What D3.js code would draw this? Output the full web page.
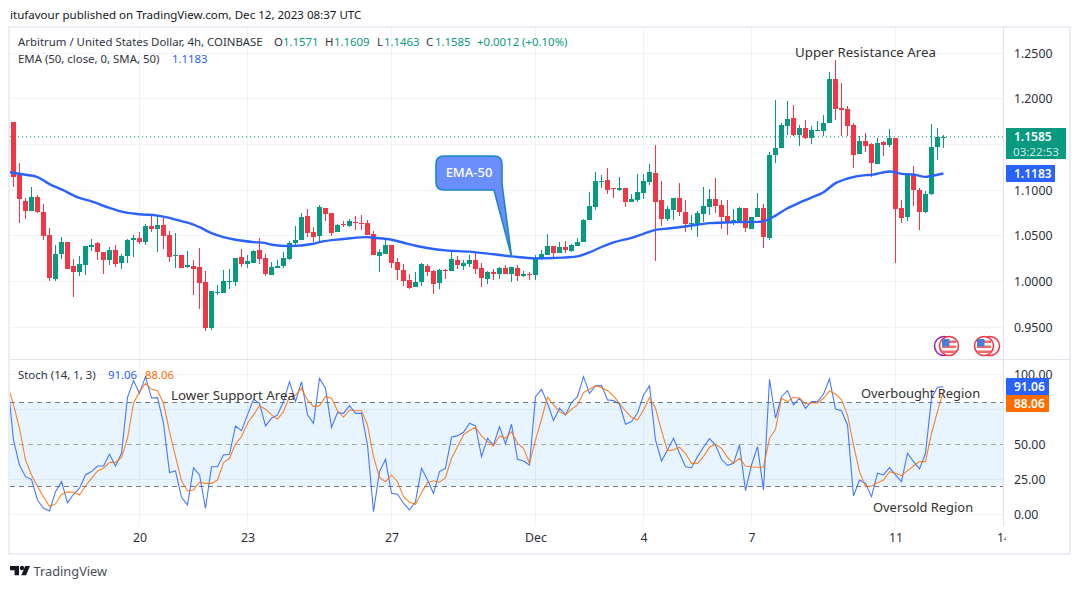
<!DOCTYPE html>
<meta charset="utf-8">
<style>
html, body { margin: 0; padding: 0; background: #fff; }
svg { display: block; }
text { font-family: "Noto Sans", sans-serif; font-size: 11.4px; fill: #131722; }
.axis text { font-size: 12.3px; fill: #2a2e39; }
.axis path, .axis line { display: none; }
.grid line { stroke: #f0f3fa; stroke-width: 1; shape-rendering: crispEdges; }
.note { font-size: 13.3px; fill: #333; }
</style>
<svg width="1080" height="589"></svg>
<script src="https://d3js.org/d3.v7.min.js"></script>
<script>

var opens = [1.1747,1.1177,1.0886,1.0770,1.0930,1.0766,1.0505,1.0029,1.0298,1.0428,
  1.0167,1.0105,1.0182,1.0378,1.0417,1.0319,1.0236,1.0341,1.0203,1.0280,
  1.0454,1.0472,1.0432,1.0613,1.0570,1.0624,1.0505,1.0280,1.0287,1.0160,
  1.0167,1.0156,0.9993,0.9495,0.9877,0.9877,0.9996,0.9996,1.0265,1.0192,
  1.0203,1.0341,1.0254,1.0069,1.0145,1.0167,1.0243,1.0417,1.0450,1.0722,
  1.0537,1.0494,1.0809,1.0755,1.0537,1.0635,1.0613,1.0657,1.0646,1.0646,
  1.0515,1.0276,1.0298,1.0396,1.0211,1.0123,1.0015,0.9938,0.9993,1.0167,
  1.0113,0.9982,1.0123,1.0113,1.0232,1.0167,1.0189,1.0232,1.0145,1.0025,
  1.0102,1.0080,1.0145,1.0080,1.0145,1.0058,1.0080,1.0069,1.0243,1.0287,
  1.0385,1.0309,1.0374,1.0330,1.0385,1.0428,1.0679,1.0820,1.1096,1.1114,
  1.1020,1.1006,1.1027,1.0875,1.0897,1.0973,1.1093,1.1191,1.0897,1.0690,
  1.0788,1.0918,1.0766,1.0635,1.0624,1.0744,1.0820,1.0908,1.0842,1.0722,
  1.0646,1.0668,1.0809,1.0570,1.0711,1.0802,1.0472,1.1385,1.1461,1.1706,
  1.1794,1.1608,1.1684,1.1575,1.1651,1.1651,1.1739,1.2222,1.1904,1.1893,
  1.1717,1.1399,1.1542,1.1509,1.1289,1.1531,1.1498,1.1575,1.0806,1.0707,
  1.1168,1.1004,1.0762,1.0960,1.1476,1.1571];

var highs = [1.1747,1.1300,1.0915,1.1039,1.0947,1.0853,1.0581,1.0396,1.0483,1.0428,
  1.0243,1.0276,1.0385,1.0461,1.0428,1.0319,1.0374,1.0396,1.0298,1.0461,
  1.0505,1.0537,1.0635,1.0744,1.0715,1.0701,1.0548,1.0526,1.0287,1.0330,
  1.0232,1.0363,1.0113,0.9895,0.9960,1.0123,1.0134,1.0254,1.0352,1.0287,
  1.0341,1.0472,1.0298,1.0211,1.0232,1.0319,1.0439,1.0603,1.0751,1.0799,
  1.0592,1.0842,1.0809,1.0755,1.0635,1.0668,1.0690,1.0722,1.0733,1.0679,
  1.0548,1.0352,1.0450,1.0396,1.0254,1.0189,1.0080,1.0102,1.0200,1.0189,
  1.0123,1.0134,1.0134,1.0319,1.0276,1.0232,1.0287,1.0309,1.0200,1.0113,
  1.0134,1.0156,1.0178,1.0156,1.0178,1.0113,1.0102,1.0287,1.0341,1.0515,
  1.0385,1.0428,1.0439,1.0407,1.0472,1.0686,1.0984,1.1202,1.1169,1.1245,
  1.1024,1.1147,1.1027,1.0962,1.1180,1.1180,1.1289,1.1496,1.1104,1.0831,
  1.0918,1.1082,1.0897,1.0733,1.0777,1.1038,1.1016,1.1136,1.0897,1.0897,
  1.0799,1.0820,1.0809,1.0711,1.0967,1.0846,1.1419,1.1985,1.1736,1.1981,
  1.1937,1.1717,1.1772,1.1706,1.1761,1.1827,1.2299,1.2431,1.2175,1.1926,
  1.1739,1.1597,1.1630,1.1516,1.1575,1.1542,1.1673,1.1575,1.0894,1.1168,
  1.1267,1.1026,1.0993,1.1728,1.1684,1.1609];

var lows = [1.1039,1.0639,1.0682,1.0770,1.0748,1.0454,1.0007,1.0007,1.0247,1.0138,
  0.9833,1.0062,1.0073,1.0334,1.0236,1.0083,1.0182,1.0160,1.0138,1.0203,
  1.0269,1.0410,1.0399,1.0541,1.0323,1.0356,1.0211,1.0149,1.0149,1.0149,
  0.9855,0.9699,0.9463,0.9474,0.9855,0.9877,0.9920,0.9953,1.0160,1.0149,
  1.0203,1.0192,1.0062,1.0069,1.0145,1.0145,1.0232,1.0378,1.0450,1.0483,
  1.0428,1.0439,1.0668,1.0494,1.0537,1.0592,1.0592,1.0559,1.0559,1.0505,
  1.0287,1.0102,1.0298,1.0145,1.0015,0.9949,0.9917,0.9938,0.9949,1.0058,
  0.9866,0.9917,1.0025,1.0113,1.0134,1.0123,1.0156,1.0080,0.9938,0.9971,
  1.0015,1.0025,1.0080,0.9993,1.0004,1.0047,1.0015,1.0015,1.0232,1.0287,
  1.0243,1.0309,1.0309,1.0319,1.0385,1.0428,1.0679,1.0788,1.1027,1.0962,
  1.0918,1.0995,1.0820,1.0875,1.0875,1.0908,1.1060,1.0221,1.0613,1.0668,
  1.0679,1.0722,1.0537,1.0559,1.0483,1.0657,1.0733,1.0755,1.0570,1.0505,
  1.0624,1.0668,1.0537,1.0570,1.0711,1.0370,1.0450,1.1296,1.1458,1.1608,
  1.1597,1.1487,1.1560,1.1509,1.1651,1.1589,1.1739,1.1772,1.1589,1.1597,
  1.1245,1.1399,1.1421,1.1146,1.1289,1.1377,1.1476,1.0206,1.0641,1.0663,
  1.0828,1.0564,1.0755,1.0952,1.1333,1.1463];

var closes = [1.1148,1.0901,1.0770,1.0930,1.0759,1.0497,1.0040,1.0298,1.0428,1.0138,
  1.0105,1.0189,1.0385,1.0396,1.0323,1.0236,1.0341,1.0192,1.0276,1.0450,
  1.0472,1.0428,1.0613,1.0570,1.0624,1.0497,1.0269,1.0287,1.0149,1.0178,
  1.0138,0.9985,0.9495,0.9895,0.9887,1.0004,1.0004,1.0254,1.0192,1.0221,
  1.0330,1.0247,1.0083,1.0160,1.0167,1.0254,1.0417,1.0450,1.0711,1.0526,
  1.0483,1.0820,1.0744,1.0526,1.0624,1.0624,1.0668,1.0639,1.0635,1.0505,
  1.0287,1.0319,1.0396,1.0200,1.0123,1.0004,0.9927,0.9993,1.0189,1.0102,
  0.9971,1.0123,1.0113,1.0243,1.0178,1.0200,1.0232,1.0134,1.0036,1.0102,
  1.0080,1.0145,1.0080,1.0156,1.0058,1.0080,1.0069,1.0254,1.0298,1.0385,
  1.0309,1.0374,1.0341,1.0396,1.0428,1.0679,1.0831,1.1104,1.1104,1.1006,
  1.1009,1.1027,1.0875,1.0908,1.0984,1.1104,1.1202,1.0875,1.0690,1.0799,
  1.0918,1.0766,1.0635,1.0646,1.0755,1.0831,1.0908,1.0831,1.0711,1.0646,
  1.0679,1.0809,1.0581,1.0711,1.0802,1.0491,1.1385,1.1461,1.1717,1.1783,
  1.1608,1.1684,1.1567,1.1662,1.1662,1.1739,1.2222,1.1893,1.1882,1.1706,
  1.1388,1.1542,1.1487,1.1300,1.1520,1.1498,1.1575,1.0795,1.0696,1.1168,
  1.1004,1.0762,1.0960,1.1476,1.1586,1.1585];

var emaIndex = [-1,0,2,4,6,8,11,13,16,18,21,24,26,28,30,31,33,35,37,40,42,43,46,50,51,55,59,60,63,65,67,70,72,76,80,83,87,90,94,96,98,100,103,105,107,109,112,116,120,124,126,127,129,131,133,135,137,139,142,143,146,148,150,152,153,155];
var emaValues = [1.1200,1.1191,1.1169,1.1143,1.1067,1.1009,1.0915,1.0878,1.0806,1.0766,1.0737,1.0722,1.0697,1.0661,1.0624,1.0595,1.0530,1.0486,1.0457,1.0432,1.0421,1.0403,1.0388,1.0414,1.0432,1.0465,1.0486,1.0479,1.0457,1.0425,1.0392,1.0356,1.0341,1.0327,1.0298,1.0276,1.0254,1.0258,1.0276,1.0319,1.0378,1.0428,1.0479,1.0523,1.0566,1.0581,1.0603,1.0639,1.0650,1.0653,1.0685,1.0722,1.0802,1.0865,1.0919,1.0978,1.1077,1.1128,1.1165,1.1168,1.1205,1.1179,1.1172,1.1146,1.1157,1.1183];

// first entry of both sits one candle left of the visible range
var stochK = [96,53.1,35.2,26.9,25.0,10.2,4.3,2.4,16.2,23.3,8.3,14.3,18.6,28.1,30.5,34.5,34.5,42.9,34.5,43.6,83.6,95.5,86.4,98.3,83.1,83.3,65.0,29.8,31.0,12.1,6.7,33.3,28.1,4.3,34.0,34.0,42.4,42.9,63.1,59.8,71.0,82.1,79.3,63.1,68.6,
  71.0,80.5,94.8,80.5,94.8,71.0,65.0,97.1,90.0,62.1,72.6,72.1,77.6,72.1,72.1,49.5,1.9,30.5,39.3,15.0,14.3,7.9,3.1,9.0,32.9,24.5,15.0,30.5,32.9,55.0,56.2,58.6,65.0,63.1,41.2,54.3,49.5,62.6,50.2,64.3,39.3,38.1,35.2,84.0,
  89.3,79.3,66.9,75.7,71.0,79.8,84.0,98.3,86.4,91.7,92.1,81.7,81.2,78.8,64.3,66.2,72.1,85.2,91.7,53.1,38.1,46.0,54.3,43.6,34.0,33.3,41.2,47.9,54.0,49.5,39.3,35.0,36.4,49.5,16.9,35.2,48.3,17.4,96.4,68.6,84.0,88.3,78.1,
  82.9,75.7,80.5,80.5,85.7,96.7,75.2,74.0,63.8,13.1,24.5,22.1,12.6,29.3,28.1,33.3,28.1,23.3,43.6,37.6,32.4,43.6,82.9,90.7,91.06];

var stochD = [93,78.1,61.4,38.8,28.1,19.8,12.6,5.5,7.4,14.3,16.0,15.7,13.8,20.2,25.7,31.0,32.9,37.1,37.1,40.7,54.3,79.3,87.6,93.6,89.3,88.3,79.3,59.0,41.2,24.0,16.7,17.4,22.9,22.1,22.1,24.5,36.9,40.0,50.2,55.5,65.0,71.0,77.6,75.0,71.0,
  67.9,73.3,84.0,85.2,90.0,81.7,76.9,77.6,84.0,82.9,74.0,69.3,74.5,74.0,74.0,63.8,41.2,26.4,23.3,28.1,23.3,12.6,8.6,7.1,15.5,22.6,24.0,22.9,26.2,40.0,48.3,56.7,59.8,62.1,56.0,51.9,48.8,56.0,54.3,59.0,50.7,47.1,36.4,53.0,
  67.9,83.6,78.1,73.3,71.0,75.0,78.1,86.9,89.3,91.9,90.5,88.3,84.5,79.3,73.8,69.3,67.4,74.5,83.3,75.7,59.8,45.5,46.0,47.9,43.6,36.4,36.4,41.2,47.9,50.0,47.1,40.7,36.4,40.0,34.5,34.0,33.6,33.6,54.3,60.7,82.9,80.5,83.6,
  82.9,78.8,79.8,79.3,82.9,88.1,86.0,81.7,71.0,49.5,30.5,19.8,20.2,22.6,24.5,30.5,29.3,27.6,31.2,34.5,37.6,37.6,57.9,73.3,88.06];

var priceGrid = [0.95, 1.00, 1.05, 1.10, 1.15, 1.20, 1.25];
var priceLabels = [0.95, 1.00, 1.05, 1.10, 1.20, 1.25];   // 1.15 sits under the price tag
var stochLabels = [0, 25, 50, 100];                        // 75 sits under the orange tag
var stochGrid = [0, 25, 75, 100];
var dayTicks = [21, 39, 63, 87, 105, 123, 147, 165];
var dayLabels = ["20", "23", "27", "Dec", "4", "7", "11", "14"];
var lastClose = 1.1585, lastEma = 1.1183, lastK = 91.06, lastD = 88.06;

var green = "#089981", red = "#f23645", blue = "#2962ff", orange = "#ff6d00";

var svg = d3.select("svg");

var x = d3.scaleLinear().domain([0, 155]).range([13.5, 943.5]);
var y = d3.scaleLinear().domain([0.95, 1.25]).range([327.2, 53.2]);
var ys = d3.scaleLinear().domain([0, 100]).range([514.3, 374.3]);

var left = 10, right = 1003, top_ = 28, split = 359.5, paneEnd = 526, bottom = 554, outer = 1070;

svg.append("clipPath").attr("id", "mainClip").append("rect")
    .attr("x", left).attr("y", top_).attr("width", right - left).attr("height", split - top_);
svg.append("clipPath").attr("id", "stochClip").append("rect")
    .attr("x", left).attr("y", split).attr("width", right - left).attr("height", paneEnd - split);
svg.append("clipPath").attr("id", "timeClip").append("rect")
    .attr("x", left).attr("y", paneEnd).attr("width", 995.6).attr("height", bottom - paneEnd);

// grid
var grid = svg.append("g").attr("class", "grid");
grid.selectAll(".v").data(dayTicks.slice(0, -1)).enter().append("line")
    .attr("x1", function(d) { return Math.floor(x(d)); })
    .attr("x2", function(d) { return Math.floor(x(d)); })
    .attr("y1", top_).attr("y2", paneEnd);
grid.selectAll(".h").data(priceGrid).enter().append("line")
    .attr("x1", left).attr("x2", right)
    .attr("y1", function(d) { return y(d); }).attr("y2", function(d) { return y(d); });

// stochastic band and levels
svg.append("rect")
    .attr("x", left).attr("width", right - left)
    .attr("y", ys(80)).attr("height", ys(20) - ys(80))
    .attr("fill", "#2196f3").attr("fill-opacity", 0.1);
grid.selectAll(".s").data(stochGrid).enter().append("line")
    .attr("x1", left).attr("x2", right)
    .attr("y1", function(d) { return ys(d); }).attr("y2", function(d) { return ys(d); });
svg.selectAll(".level").data([80, 50, 20]).enter().append("line")
    .attr("x1", left).attr("x2", right)
    .attr("y1", function(d) { return ys(d); }).attr("y2", function(d) { return ys(d); })
    .attr("stroke", "#787b86")
    .attr("stroke-opacity", function(d) { return d == 50 ? 0.6 : 1; })
    .attr("stroke-dasharray", "5 4")
    .attr("shape-rendering", "crispEdges");

// last price line
svg.append("line")
    .attr("x1", left).attr("x2", right)
    .attr("y1", y(lastClose)).attr("y2", y(lastClose))
    .attr("stroke", green).attr("stroke-dasharray", "1 3");

// candles
var candles = svg.append("g").attr("clip-path", "url(#mainClip)")
    .selectAll("g").data(d3.range(opens.length)).enter().append("g")
    .attr("fill", function(i) { return closes[i] >= opens[i] ? green : red; })
    .attr("shape-rendering", "crispEdges");
candles.append("rect")
    .attr("x", function(i) { return Math.floor(x(i)); })
    .attr("width", 1)
    .attr("y", function(i) { return y(highs[i]); })
    .attr("height", function(i) { return y(lows[i]) - y(highs[i]); });
candles.append("rect")
    .attr("x", function(i) { return Math.floor(x(i)) - 2; })
    .attr("width", 5)
    .attr("y", function(i) { return y(Math.max(opens[i], closes[i])); })
    .attr("height", function(i) { return Math.max(1, Math.abs(y(opens[i]) - y(closes[i]))); });

// EMA
var emaLine = d3.line().curve(d3.curveMonotoneX)
    .x(function(d, i) { return x(emaIndex[i]); })
    .y(function(d) { return y(d); });
svg.append("path").datum(emaValues)
    .attr("clip-path", "url(#mainClip)")
    .attr("fill", "none").attr("stroke", blue).attr("stroke-width", 2.4)
    .attr("d", emaLine);

// stochastic lines
var stochLine = d3.line()
    .x(function(d, i) { return x(i - 1); })
    .y(function(d) { return ys(d); });
var stochG = svg.append("g").attr("clip-path", "url(#stochClip)").attr("fill", "none");
stochG.append("path").datum(stochK).attr("stroke", blue).attr("stroke-opacity", 0.85).attr("stroke-width", 1.1).attr("d", stochLine);
stochG.append("path").datum(stochD).attr("stroke", orange).attr("stroke-opacity", 0.85).attr("stroke-width", 1.1).attr("d", stochLine);

// frame
var frame = svg.append("g").attr("stroke", "#eceef5").attr("shape-rendering", "crispEdges");
frame.append("rect").attr("x", 9).attr("y", 27).attr("width", outer - 9).attr("height", bottom - 27).attr("fill", "none").attr("stroke-width", 2);
frame.append("line").attr("x1", left).attr("x2", outer).attr("y1", split).attr("y2", split).attr("stroke", "#e0e3eb");
frame.append("line").attr("x1", right + .5).attr("x2", right + .5).attr("y1", 27).attr("y2", paneEnd).attr("stroke", "#e0e3eb");

// axes
svg.append("g").attr("class", "axis")
    .attr("transform", "translate(" + (right + 11) + ",0)")
    .call(d3.axisRight(y).tickValues(priceLabels).tickFormat(d3.format(".4f")).tickSize(0).tickPadding(0));
svg.append("g").attr("class", "axis")
    .attr("transform", "translate(" + (right + 11) + ",0)")
    .call(d3.axisRight(ys).tickValues(stochLabels).tickFormat(d3.format(".2f")).tickSize(0).tickPadding(0));
svg.append("g").attr("class", "axis")
    .attr("clip-path", "url(#timeClip)")
    .call(d3.axisBottom(x).tickValues(dayTicks).tickFormat(function(d, i) { return dayLabels[i]; }).tickSize(0).tickPadding(0))
  .selectAll("text").attr("dy", "0.32em").attr("y", 538);

// price tags
function tag(top, w, h, color, value, sub) {
  svg.append("rect").attr("x", 1006).attr("y", top).attr("width", w).attr("height", h).attr("fill", color);
  svg.append("text").attr("x", 1014).attr("y", top + (sub ? 8.5 : h / 2)).attr("dy", "0.36em")
      .style("fill", "#fff").style("font-size", "12px").style("font-weight", 600).text(value);
  if (sub) svg.append("text").attr("x", 1013).attr("y", top + 23.5).attr("dy", "0.36em")
      .style("fill", "#fff").style("fill-opacity", 0.8).style("font-size", "11.6px").text(sub);
}
tag(128, 60, 31, green, d3.format(".4f")(lastClose), "03:22:53");
tag(165, 49, 17, blue, d3.format(".4f")(lastEma));
tag(378, 43, 17, blue, d3.format(".2f")(lastK));
tag(395, 43, 17, orange, d3.format(".2f")(lastD));

// header and legends
svg.append("text").attr("x", 10).attr("y", 19).style("font-size", "11.55px")
    .text("itufavour published on TradingView.com, Dec 12, 2023 08:37 UTC");

function legend(yPos, parts) {
  var t = svg.append("text").attr("y", yPos);
  parts.forEach(function(p) {
    t.append("tspan").attr("x", p[0]).style("fill", p[2] || "#2f333d").text(p[1]);
  });
}
legend(46, [[18, "Arbitrum / United States Dollar, 4h, COINBASE"],
  [274, "O"], [283, "1.1571", green], [325, "H"], [334, "1.1609", green],
  [377, "L"], [384, "1.1463", green], [426, "C"], [435, "1.1585", green], [477, "+0.0012 (+0.10%)", green]]);
legend(63, [[18, "EMA (50, close, 0, SMA, 50)"], [172, "1.1183", blue]]);
legend(379, [[18, "Stoch (14, 1, 3)"], [108, "91.06", blue], [145, "88.06", orange]]);

// text notes
svg.selectAll(".note").data([
    [795, 57, "Upper Resistance Area", 13.3],
    [171, 400, "Lower Support Area", 13.3],
    [861, 398, "Overbought Region", 12.9],
    [873, 512, "Oversold Region", 12.9]
  ]).enter().append("text")
    .attr("class", "note")
    .attr("x", function(d) { return d[0]; })
    .attr("y", function(d) { return d[1]; })
    .style("font-size", function(d) { return d[3] + "px"; })
    .text(function(d) { return d[2]; });

// EMA-50 callout
var tipX = x(83), tipY = y(1.0276);
svg.append("path")
    .attr("d", "M444,156 H494 Q502,156 502,164 V184 L" + tipX + "," + tipY + " L494,190 H444 Q436,190 436,182 V164 Q436,156 444,156 Z")
    .attr("fill", "#6b8eff").attr("stroke", "#1a86c8").attr("stroke-width", 1.6).attr("stroke-linejoin", "round");
svg.append("text").attr("x", 469).attr("y", 172.5).attr("dy", "0.36em").attr("text-anchor", "middle")
    .style("fill", "#fff").style("font-size", "13px").style("font-weight", 500).text("EMA-50");

// flags of the economic events
function flag(cx, cy, back, backColor) {
  svg.append("circle").attr("cx", back).attr("cy", cy).attr("r", 9.5).attr("fill", "#fff").attr("stroke", backColor).attr("stroke-width", 1.6);
  svg.append("circle").attr("cx", cx).attr("cy", cy).attr("r", 9.5).attr("fill", "#fff").attr("stroke", red).attr("stroke-width", 1.6);
  [-5, 0, 5].forEach(function(o) {
    svg.append("rect").attr("x", cx - 7).attr("y", cy + o - 0.5).attr("width", 14).attr("height", 2.6).attr("fill", "#ef6a6a");
  });
  svg.append("rect").attr("x", cx - 7).attr("y", cy - 7).attr("width", 7.5).attr("height", 7.5).attr("fill", "#4a7fd6");
}
flag(949, 346, 944, "#9c27b0");
flag(984, 346, 990, red);

// footer logo
svg.append("path")
    .attr("d", "M10,566 H19 V575.3 H14.6 V570.2 H10 Z M25.2,566 H30 L26,575.3 H21.3 Z")
    .attr("fill", "#131722");
svg.append("circle").attr("cx", 22).attr("cy", 568).attr("r", 2.2).attr("fill", "#131722");
svg.append("text").attr("x", 33.5).attr("y", 575.5).style("font-size", "12.8px").style("fill", "#4a4e59").text("TradingView");

</script>
